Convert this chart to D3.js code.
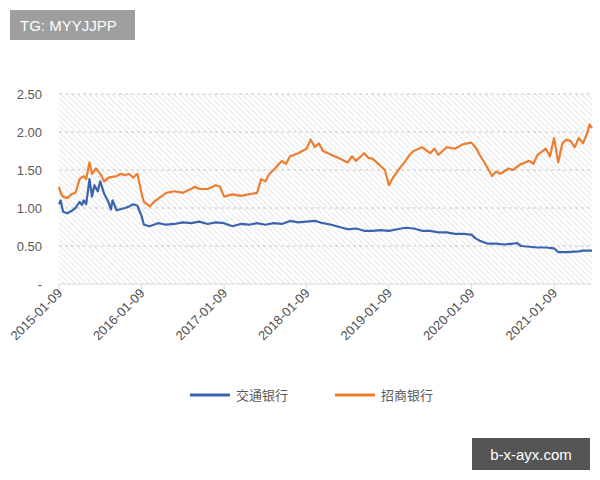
<!DOCTYPE html><html><head><meta charset="utf-8"><script src="https://cdn.jsdelivr.net/npm/d3@7"></script>
<style>body{margin:0;background:#fff;font-family:"Noto Sans CJK SC","Liberation Sans",sans-serif}</style></head><body><svg id="c" width="600" height="480"></svg><script>
const series = ["交通银行","招商银行"];
const colors = ["#3b64ae","#ed7d31"];
const yTicks = [0,0.5,1,1.5,2,2.5];
const yTickLabels = ["-","0.50","1.00","1.50","2.00","2.50"];
const xTickLabels = ["2015-01-09","2016-01-09","2017-01-09","2018-01-09","2019-01-09","2020-01-09","2021-01-09"];
const bocomT = [2015.0,2015.02,2015.05,2015.1,2015.15,2015.2,2015.25,2015.28,2015.3,2015.33,2015.37,2015.4,2015.43,2015.47,2015.5,2015.55,2015.6,2015.63,2015.65,2015.7,2015.8,2015.85,2015.9,2015.95,2016.0,2016.03,2016.1,2016.2,2016.3,2016.4,2016.5,2016.6,2016.7,2016.8,2016.9,2017.0,2017.1,2017.2,2017.3,2017.4,2017.5,2017.6,2017.7,2017.8,2017.9,2018.0,2018.1,2018.2,2018.3,2018.4,2018.5,2018.6,2018.7,2018.8,2018.9,2019.0,2019.1,2019.2,2019.3,2019.4,2019.5,2019.6,2019.7,2019.8,2019.9,2020.0,2020.05,2020.1,2020.2,2020.3,2020.4,2020.5,2020.55,2020.6,2020.7,2020.8,2020.9,2021.0,2021.05,2021.15,2021.3,2021.35,2021.46];
const bocomV = [1.05,1.1,0.95,0.93,0.96,1.0,1.08,1.04,1.1,1.05,1.38,1.15,1.3,1.22,1.35,1.18,1.08,0.98,1.1,0.97,1.0,1.02,1.05,1.03,0.9,0.78,0.76,0.8,0.78,0.79,0.81,0.8,0.82,0.79,0.81,0.8,0.76,0.79,0.78,0.8,0.78,0.8,0.79,0.83,0.81,0.82,0.83,0.8,0.78,0.75,0.72,0.73,0.7,0.7,0.71,0.7,0.72,0.74,0.73,0.7,0.7,0.68,0.68,0.66,0.66,0.65,0.6,0.57,0.53,0.53,0.52,0.53,0.54,0.5,0.49,0.48,0.48,0.47,0.42,0.42,0.43,0.44,0.44];
const cmbT = [2015.0,2015.02,2015.05,2015.1,2015.15,2015.2,2015.25,2015.3,2015.33,2015.37,2015.4,2015.45,2015.5,2015.55,2015.6,2015.7,2015.75,2015.8,2015.85,2015.9,2015.95,2016.0,2016.03,2016.1,2016.15,2016.2,2016.3,2016.4,2016.5,2016.6,2016.65,2016.7,2016.8,2016.9,2016.95,2017.0,2017.1,2017.2,2017.3,2017.4,2017.45,2017.5,2017.55,2017.6,2017.7,2017.75,2017.8,2017.9,2018.0,2018.05,2018.1,2018.15,2018.2,2018.3,2018.4,2018.5,2018.55,2018.6,2018.7,2018.75,2018.8,2018.9,2018.95,2019.0,2019.05,2019.1,2019.2,2019.25,2019.3,2019.4,2019.5,2019.55,2019.6,2019.7,2019.8,2019.9,2020.0,2020.05,2020.1,2020.2,2020.25,2020.3,2020.35,2020.45,2020.5,2020.6,2020.7,2020.75,2020.8,2020.9,2020.95,2021.0,2021.05,2021.1,2021.15,2021.2,2021.25,2021.3,2021.35,2021.4,2021.43,2021.46];
const cmbV = [1.28,1.2,1.15,1.13,1.18,1.2,1.38,1.42,1.38,1.6,1.45,1.52,1.45,1.35,1.4,1.42,1.45,1.43,1.45,1.4,1.45,1.2,1.08,1.02,1.08,1.12,1.2,1.22,1.2,1.25,1.28,1.25,1.25,1.3,1.28,1.15,1.18,1.16,1.18,1.2,1.38,1.35,1.45,1.5,1.62,1.58,1.68,1.72,1.78,1.9,1.8,1.85,1.75,1.7,1.65,1.6,1.68,1.62,1.72,1.66,1.65,1.55,1.5,1.3,1.4,1.48,1.62,1.7,1.75,1.8,1.72,1.78,1.7,1.8,1.78,1.84,1.86,1.8,1.7,1.52,1.42,1.48,1.45,1.52,1.5,1.58,1.62,1.58,1.7,1.78,1.68,1.92,1.6,1.85,1.9,1.88,1.8,1.92,1.85,1.98,2.1,2.05];

const toDate = t => { const y=Math.floor(t); const s=new Date(y,0,9), e=new Date(y+1,0,9); return new Date(+s+(t-y)*(e-s)); };
const svg = d3.select("#c");
const L=59,R=592,T=94,B=284;
const x = d3.scaleTime().domain([toDate(2015.0),toDate(2021.46)]).range([L,R]);
const y = d3.scaleLinear().domain([0,2.5]).range([B,T]);
const defs = svg.append("defs");
const p = defs.append("pattern").attr("id","h").attr("patternUnits","userSpaceOnUse").attr("width",4).attr("height",4).attr("patternTransform","rotate(-45)");
p.append("line").attr("x1",0).attr("y1",0).attr("x2",0).attr("y2",4).attr("stroke","#cfcfcf").attr("stroke-width",1);
svg.append("rect").attr("x",L).attr("y",T).attr("width",R-L).attr("height",B-T).attr("fill","url(#h)");
svg.append("g").selectAll("line").data(yTicks.slice(1)).join("line").attr("x1",L).attr("x2",R).attr("y1",d=>y(d)).attr("y2",d=>y(d)).attr("stroke","#c8c8c8").attr("stroke-dasharray","3,3");
svg.append("g").selectAll("text").data(yTicks).join("text").attr("x",42).attr("y",d=>y(d)+5).attr("text-anchor","end").attr("font-size",13).attr("fill","#595959").attr("font-family","Liberation Sans").text((d,i)=>yTickLabels[i]);
svg.append("line").attr("x1",L).attr("x2",R).attr("y1",B).attr("y2",B).attr("stroke","#d9d9d9");
const xd = xTickLabels.map(s=>new Date(+s.slice(0,4),0,9));
svg.append("g").selectAll("line").data(xd).join("line").attr("x1",d=>x(d)).attr("x2",d=>x(d)).attr("y1",B).attr("y2",B+5).attr("stroke","#d9d9d9");
svg.append("g").selectAll("text").data(xd).join("text").attr("transform",d=>`translate(${x(d)+4},${B+10}) rotate(-45)`).attr("text-anchor","end").attr("font-size",13).attr("fill","#505050").attr("font-family","Liberation Sans").text((d,i)=>xTickLabels[i]);
const line = d3.line().x(d=>x(toDate(d[0]))).y(d=>y(d[1]));
[[bocomT,bocomV],[cmbT,cmbV]].forEach((s,i)=>{
  svg.append("path").datum(s[0].map((t,j)=>[t,s[1][j]])).attr("d",line).attr("fill","none").attr("stroke",colors[i]).attr("stroke-width",2.2).attr("stroke-linejoin","round");
});
const lg = svg.append("g");
[[190,0],[335,1]].forEach(([lx,i])=>{
  lg.append("line").attr("x1",lx).attr("x2",lx+40).attr("y1",395).attr("y2",395).attr("stroke",colors[i]).attr("stroke-width",3);
  lg.append("text").attr("x",lx+46).attr("y",400).attr("font-size",13).attr("fill","#595959").text(series[i]);
});
svg.append("rect").attr("x",10).attr("y",10).attr("width",125).attr("height",30).attr("fill","#9e9e9e");
svg.append("text").attr("x",20).attr("y",31).attr("font-size",15).attr("fill","#fff").attr("font-family","Liberation Sans").text("TG: MYYJJPP");
svg.append("rect").attr("x",472).attr("y",438).attr("width",118).attr("height",32).attr("fill","#555");
svg.append("text").attr("x",531).attr("y",460).attr("text-anchor","middle").attr("font-size",15).attr("fill","#fff").attr("font-family","Liberation Sans").text("b-x-ayx.com");
</script></body></html>
